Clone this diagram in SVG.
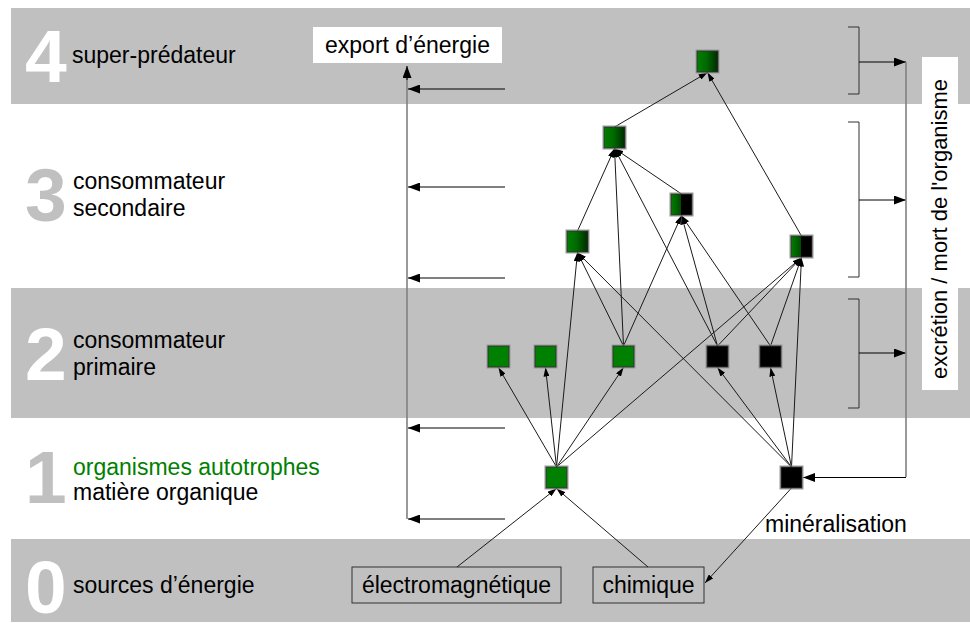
<svg xmlns="http://www.w3.org/2000/svg" width="970" height="623" viewBox="0 0 970 623">
  <defs>
    <style>
      .band { fill: #c0c0c0; }
      .lbl { font-family: "Liberation Sans", Arial, sans-serif; font-size: 23px; fill: #000; }
      .vert { font-size: 22px; }
      .green { fill: #008000; }
      .num { font-family: "Liberation Sans", Arial, sans-serif; font-size: 75px; font-weight: bold; }
      .numW { fill: #ffffff; }
      .numG { fill: #c0c0c0; }
      .node { stroke: #303030; stroke-width: 1; }
      .halo { fill: none; stroke: #9a9a9a; stroke-width: 1; }
      .edge { stroke: #1a1a1a; stroke-width: 1; fill: none; marker-end: url(#ah); }
      .flow { stroke: #000; stroke-width: 1; fill: none; marker-end: url(#ahL); }
      .axis { stroke: #808080; stroke-width: 1.6; fill: none; }
      .brk { stroke: #303030; stroke-width: 1; fill: none; }
      .srcbox { fill: #c0c0c0; stroke: #303030; stroke-width: 1; }
    </style>
    <marker id="ah" viewBox="0 0 9 6" refX="9" refY="3" markerWidth="9" markerHeight="6" orient="auto" markerUnits="userSpaceOnUse">
      <path d="M0,0 L9,3 L0,6 z" fill="#000"/>
    </marker>
    <marker id="ahL" viewBox="0 0 12 9" refX="12" refY="4.5" markerWidth="12" markerHeight="9" orient="auto" markerUnits="userSpaceOnUse">
      <path d="M0,0 L12,4.5 L0,9 z" fill="#000"/>
    </marker>
    <linearGradient id="gGreen" x1="0" y1="0" x2="1" y2="0">
      <stop offset="0" stop-color="#008000"/>
      <stop offset="0.45" stop-color="#006a00"/>
      <stop offset="1" stop-color="#002a00"/>
    </linearGradient>
    <linearGradient id="gHalf" x1="0" y1="0" x2="1" y2="0">
      <stop offset="0" stop-color="#008000"/>
      <stop offset="0.48" stop-color="#004a00"/>
      <stop offset="0.5" stop-color="#000000"/>
      <stop offset="1" stop-color="#000000"/>
    </linearGradient>
  </defs>

  <!-- trophic level bands -->
  <rect class="band" x="11" y="8" width="959" height="96"/>
  <rect class="band" x="11" y="288" width="959" height="130"/>
  <rect class="band" x="11" y="539" width="959" height="83"/>

  <!-- level numbers and captions -->
  <g id="level4">
    <text class="num numW" x="25" y="82">4</text>
    <text class="lbl" x="72" y="63">super-prédateur</text>
  </g>
  <g id="level3">
    <text class="num numG" x="25" y="221">3</text>
    <text class="lbl" x="73" y="189">consommateur</text>
    <text class="lbl" x="73" y="216">secondaire</text>
  </g>
  <g id="level2">
    <text class="num numW" x="25" y="380">2</text>
    <text class="lbl" x="73" y="348">consommateur</text>
    <text class="lbl" x="73" y="375">primaire</text>
  </g>
  <g id="level1">
    <text class="num numG" x="25" y="503">1</text>
    <text class="lbl green" x="73" y="475">organismes autotrophes</text>
    <text class="lbl" x="73" y="500">matière organique</text>
  </g>
  <g id="level0">
    <text class="num numW" x="25" y="613">0</text>
    <text class="lbl" x="73" y="593">sources d’énergie</text>
  </g>

  <!-- energy export and excretion side channels -->
  <g id="export">
    <rect x="313" y="27" width="189" height="36" fill="#ffffff"/>
    <text class="lbl" x="407.5" y="53" text-anchor="middle">export d’énergie</text>
  </g>
  <g id="excretion">
    <rect x="922" y="57" width="36" height="333" fill="#ffffff"/>
    <text class="lbl vert" transform="translate(947,229) rotate(-90)" text-anchor="middle">excrétion / mort de l'organisme</text>
  </g>

  <!-- energy sources -->
  <g id="src-electro">
    <rect class="srcbox" x="352" y="567" width="209" height="36"/>
    <text class="lbl" x="456.5" y="593" text-anchor="middle">électromagnétique</text>
  </g>
  <g id="src-chimique">
    <rect class="srcbox" x="593" y="567" width="111" height="36"/>
    <text class="lbl" x="648.5" y="593" text-anchor="middle">chimique</text>
  </g>
  <g id="mineralisation-label">
    <text class="lbl" x="765" y="532">minéralisation</text>
  </g>

  <!-- connectors -->
  <g id="connectors">
    <!-- export collector -->
    <path class="axis" d="M407,519 V72"/>
    <path class="flow" d="M407,80 V66"/>
    <path class="flow" d="M505,89 H408"/>
    <path class="flow" d="M505,187 H408"/>
    <path class="flow" d="M505,278 H408"/>
    <path class="flow" d="M505,428 H408"/>
    <path class="flow" d="M505,519 H408"/>

    <!-- excretion collector -->
    <path class="brk" d="M848,27 H859 V94 H848"/>
    <path class="brk" d="M848,122 H859 V277 H848"/>
    <path class="brk" d="M848,299 H859 V408 H848"/>
    <path class="flow" d="M859,62 H906"/>
    <path class="flow" d="M859,200 H906"/>
    <path class="flow" d="M859,353 H906"/>
    <path class="axis" d="M906,62 V477"/>
    <path class="flow" d="M906,477.5 H803"/>

    <!-- food web links -->
    <path class="edge" d="M556.5,467 L498.5,367.5"/>
    <path class="edge" d="M556.5,467 L545.5,367.5"/>
    <path class="edge" d="M556.5,467 L623.5,367.5"/>
    <path class="edge" d="M556.5,467 L577.5,252.5"/>
    <path class="edge" d="M556.5,467 L801.5,257.5"/>
    <path class="edge" d="M791.5,467 L717.5,367.5"/>
    <path class="edge" d="M791.5,467 L770.5,367.5"/>
    <path class="edge" d="M791.5,467 L801.5,257.5"/>
    <path class="edge" d="M791.5,467 L577.5,252.5"/>
    <path class="edge" d="M623.5,346 L577.5,252.5"/>
    <path class="edge" d="M623.5,346 L614.5,148.5"/>
    <path class="edge" d="M623.5,346 L681.5,215.5"/>
    <path class="edge" d="M717.5,346 L614.5,148.5"/>
    <path class="edge" d="M717.5,346 L681.5,215.5"/>
    <path class="edge" d="M717.5,346 L801.5,257.5"/>
    <path class="edge" d="M770.5,346 L681.5,215.5"/>
    <path class="edge" d="M770.5,346 L801.5,257.5"/>
    <path class="edge" d="M577.5,231 L614.5,148.5"/>
    <path class="edge" d="M681.5,194 L614.5,148.5"/>
    <path class="edge" d="M614.5,127 L707.5,72.5"/>
    <path class="edge" d="M801.5,236 L707.5,72.5"/>
    <path class="edge" d="M457,567 L556.5,488.5"/>
    <path class="edge" d="M648,567 L556.5,488.5"/>
    <path class="edge" d="M791.5,488 L705,583"/>
  </g>

  <!-- organisms -->
  <g id="n-top"><rect class="halo" x="696" y="50" width="23" height="23"/><rect class="node" x="697" y="51" width="21" height="21" fill="url(#gGreen)"/></g>
  <g id="n-a"><rect class="halo" x="603" y="126" width="23" height="23"/><rect class="node" x="604" y="127" width="21" height="21" fill="url(#gGreen)"/></g>
  <g id="n-b"><rect class="halo" x="670" y="193" width="23" height="23"/><rect class="node" x="671" y="194" width="21" height="21" fill="url(#gHalf)"/></g>
  <g id="n-c"><rect class="halo" x="566" y="230" width="23" height="23"/><rect class="node" x="567" y="231" width="21" height="21" fill="url(#gGreen)"/></g>
  <g id="n-d"><rect class="halo" x="790" y="235" width="23" height="23"/><rect class="node" x="791" y="236" width="21" height="21" fill="url(#gHalf)"/></g>
  <g id="n-g1"><rect class="halo" x="487" y="345" width="23" height="23"/><rect class="node" x="488" y="346" width="21" height="21" fill="#008000"/></g>
  <g id="n-g2"><rect class="halo" x="534" y="345" width="23" height="23"/><rect class="node" x="535" y="346" width="21" height="21" fill="#008000"/></g>
  <g id="n-g3"><rect class="halo" x="612" y="345" width="23" height="23"/><rect class="node" x="613" y="346" width="21" height="21" fill="#008000"/></g>
  <g id="n-k1"><rect class="halo" x="706" y="345" width="23" height="23"/><rect class="node" x="707" y="346" width="21" height="21" fill="#000000"/></g>
  <g id="n-k2"><rect class="halo" x="759" y="345" width="23" height="23"/><rect class="node" x="760" y="346" width="21" height="21" fill="#000000"/></g>
  <g id="n-autotroph"><rect class="halo" x="545" y="466" width="23" height="23"/><rect class="node" x="546" y="467" width="21" height="21" fill="#008000"/></g>
  <g id="n-decomposer"><rect class="halo" x="780" y="466" width="23" height="23"/><rect class="node" x="781" y="467" width="21" height="21" fill="#000000"/></g>
</svg>
